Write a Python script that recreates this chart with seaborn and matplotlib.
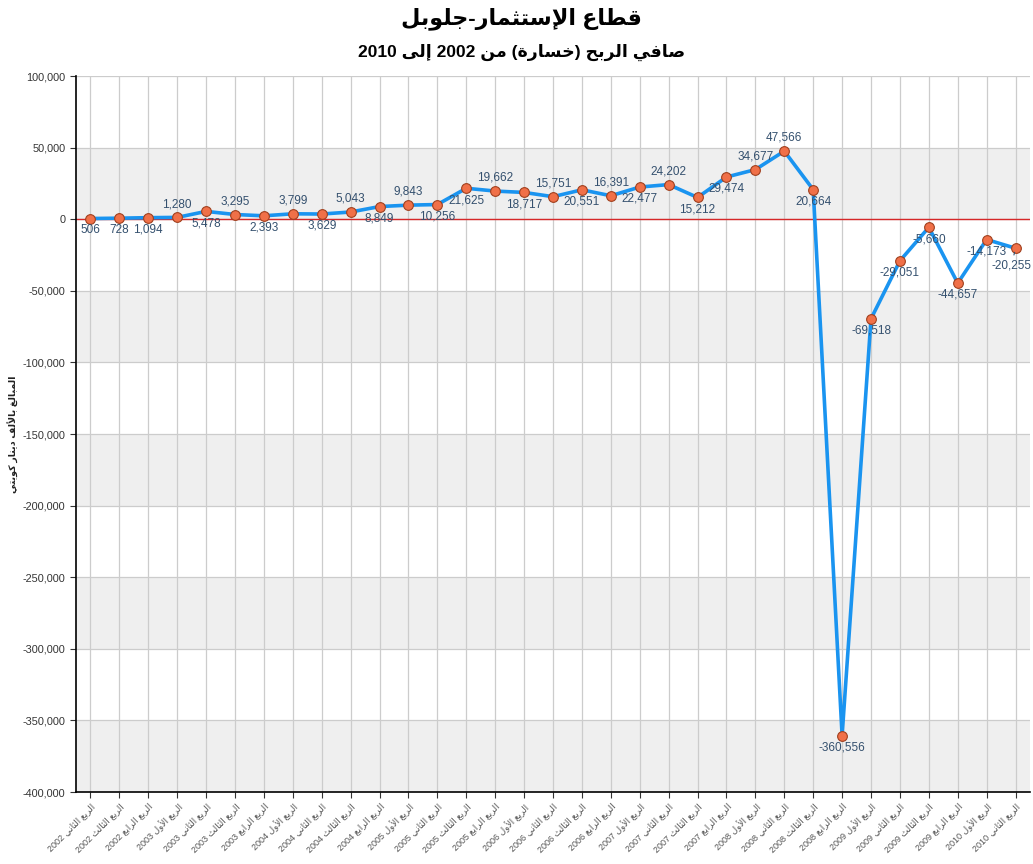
import re
import matplotlib
matplotlib.use("Agg")
import matplotlib.pyplot as plt
import seaborn as sns

# Arabic letters -> (isolated, final, initial, medial) presentation forms
FORMS = {
    'ء': '\uFE80', 'آ': '\uFE81\uFE82', 'أ': '\uFE83\uFE84', 'ؤ': '\uFE85\uFE86',
    'إ': '\uFE87\uFE88', 'ئ': '\uFE89\uFE8A\uFE8B\uFE8C', 'ا': '\uFE8D\uFE8E',
    'ب': '\uFE8F\uFE90\uFE91\uFE92', 'ة': '\uFE93\uFE94', 'ت': '\uFE95\uFE96\uFE97\uFE98',
    'ث': '\uFE99\uFE9A\uFE9B\uFE9C', 'ج': '\uFE9D\uFE9E\uFE9F\uFEA0',
    'ح': '\uFEA1\uFEA2\uFEA3\uFEA4', 'خ': '\uFEA5\uFEA6\uFEA7\uFEA8', 'د': '\uFEA9\uFEAA',
    'ذ': '\uFEAB\uFEAC', 'ر': '\uFEAD\uFEAE', 'ز': '\uFEAF\uFEB0',
    'س': '\uFEB1\uFEB2\uFEB3\uFEB4', 'ش': '\uFEB5\uFEB6\uFEB7\uFEB8',
    'ص': '\uFEB9\uFEBA\uFEBB\uFEBC', 'ض': '\uFEBD\uFEBE\uFEBF\uFEC0',
    'ط': '\uFEC1\uFEC2\uFEC3\uFEC4', 'ظ': '\uFEC5\uFEC6\uFEC7\uFEC8',
    'ع': '\uFEC9\uFECA\uFECB\uFECC', 'غ': '\uFECD\uFECE\uFECF\uFED0',
    'ف': '\uFED1\uFED2\uFED3\uFED4', 'ق': '\uFED5\uFED6\uFED7\uFED8',
    'ك': '\uFED9\uFEDA\uFEDB\uFEDC', 'ل': '\uFEDD\uFEDE\uFEDF\uFEE0',
    'م': '\uFEE1\uFEE2\uFEE3\uFEE4', 'ن': '\uFEE5\uFEE6\uFEE7\uFEE8',
    'ه': '\uFEE9\uFEEA\uFEEB\uFEEC', 'و': '\uFEED\uFEEE', 'ى': '\uFEEF\uFEF0',
    'ي': '\uFEF1\uFEF2\uFEF3\uFEF4',
}
LAM_ALEF = {'آ': '\uFEF5\uFEF6', 'أ': '\uFEF7\uFEF8', 'إ': '\uFEF9\uFEFA', 'ا': '\uFEFB\uFEFC'}


def ar(text):
    # join letters and put them in visual (left to right) order
    res = []
    i = 0
    n = len(text)
    while i < n:
        c = text[i]
        if c not in FORMS:
            res.append(c)
            i += 1
            continue
        prev = text[i - 1] if i > 0 else ''
        join_prev = prev in FORMS and len(FORMS[prev]) == 4
        if c == 'ل' and i + 1 < n and text[i + 1] in LAM_ALEF:
            f = LAM_ALEF[text[i + 1]]
            res.append(f[1] if join_prev else f[0])
            i += 2
            continue
        nxt = text[i + 1] if i + 1 < n else ''
        f = FORMS[c]
        join_next = len(f) == 4 and nxt in FORMS and nxt != 'ء'
        if len(f) == 1:
            g = f[0]
        elif join_prev and join_next:
            g = f[3]
        elif join_prev:
            g = f[1]
        elif join_next:
            g = f[2]
        else:
            g = f[0]
        res.append(g)
        i += 1
    s = ''.join(res)[::-1]
    s = re.sub(r'[0-9]+', lambda m: m.group(0)[::-1], s)
    return s.translate(str.maketrans('()', ')('))


# data
quarters = ['الأول', 'الثاني', 'الثالث', 'الرابع']
periods = [(2002, 1), (2002, 2), (2002, 3)] + [(y, q) for y in range(2003, 2010) for q in range(4)] + [(2010, 0), (2010, 1)]
labels = ['الربع ' + quarters[q] + ' ' + str(y) for y, q in periods]

profit = [506, 728, 1094, 1280, 5478, 3295, 2393, 3799, 3629, 5043, 8849,
          9843, 10256, 21625, 19662, 18717, 15751, 20551, 16391, 22477, 24202,
          15212, 29474, 34677, 47566, 20664, -360556, -69518, -29051, -5660,
          -44657, -14173, -20255]

# where each value label sits: a = above the point, b = below
label_side = list('bbbabababab' 'abbababab' 'abbaabbbbbbbb')

sns.set_style("white")
plt.rcParams['font.family'] = ['Liberation Sans', 'DejaVu Sans']

fig = plt.figure(figsize=(10.33, 8.64), dpi=100)
ax = fig.add_axes([0.0736, 0.0833, 0.9235, 0.8287])

# alternating bands
for lo in range(-400000, 100000, 50000):
    if (lo // 50000) % 2 == 0:
        ax.axhspan(lo, lo + 50000, color='#efefef', zorder=0, lw=0)

x = list(range(len(profit)))
for xi in x:
    ax.axvline(xi, color='#cccccc', lw=0.9, zorder=1)
for yv in range(-350000, 100001, 50000):
    ax.axhline(yv, color='#cccccc', lw=0.9, zorder=1)
ax.axhline(0, color='#d62728', lw=1.0, zorder=2)

sns.lineplot(x=x, y=profit, ax=ax, color='#1a94f0', lw=2.6, marker='o',
             markersize=7, markerfacecolor='#f07048', markeredgecolor='#a0401e',
             markeredgewidth=0.8, zorder=3)

for xi, v, side in zip(x, profit, label_side):
    dy = 9.5 if side == 'a' else -8.5
    dx = 0
    arrow = None
    if v == -20255:
        dx, dy = -3, -12.5
        arrow = dict(arrowstyle='-', color='#34506e', lw=0.8, shrinkA=1, shrinkB=3)
    ax.annotate(f'{v:,}', (xi, v), xytext=(dx, dy), textcoords='offset points',
                ha='center', va='center', fontsize=8.5, color='#34506e', zorder=4,
                arrowprops=arrow)

ax.set_xlim(-0.5, len(profit) - 0.5)
ax.set_ylim(-400000, 100000)
ax.set_yticks(range(-400000, 100001, 50000))
ax.set_yticklabels([f'{t:,}' for t in range(-400000, 100001, 50000)], fontsize=7.8, color='#333333')
ax.set_xticks(x)
ax.set_xticklabels([ar(l) for l in labels], rotation=45, ha='right', rotation_mode='anchor',
                   fontsize=6.5, color='#555555')
ax.tick_params(axis='both', direction='out', length=4, width=0.8, color='#333333', bottom=True, left=True)
ax.tick_params(axis='x', pad=3)

for s in ['top', 'right']:
    ax.spines[s].set_visible(False)
for s in ['left', 'bottom']:
    ax.spines[s].set_color('black')
    ax.spines[s].set_linewidth(1.2)

ax.set_ylabel(ar('المبالغ بالألف دينار كويتي'), fontsize=6.8, fontweight='bold', color='#222222')
ax.yaxis.set_label_coords(-0.061, 0.5)

fig.text(0.505, 0.978, ar('قطاع الإستثمار-جلوبل'), ha='center', va='center',
         fontsize=16, fontweight='bold', color='black')
fig.text(0.505, 0.939, ar('صافي الربح (خسارة) من 2002 إلى 2010'), ha='center', va='center',
         fontsize=12.5, fontweight='bold', color='black')

fig.savefig('out.png', dpi=100)
